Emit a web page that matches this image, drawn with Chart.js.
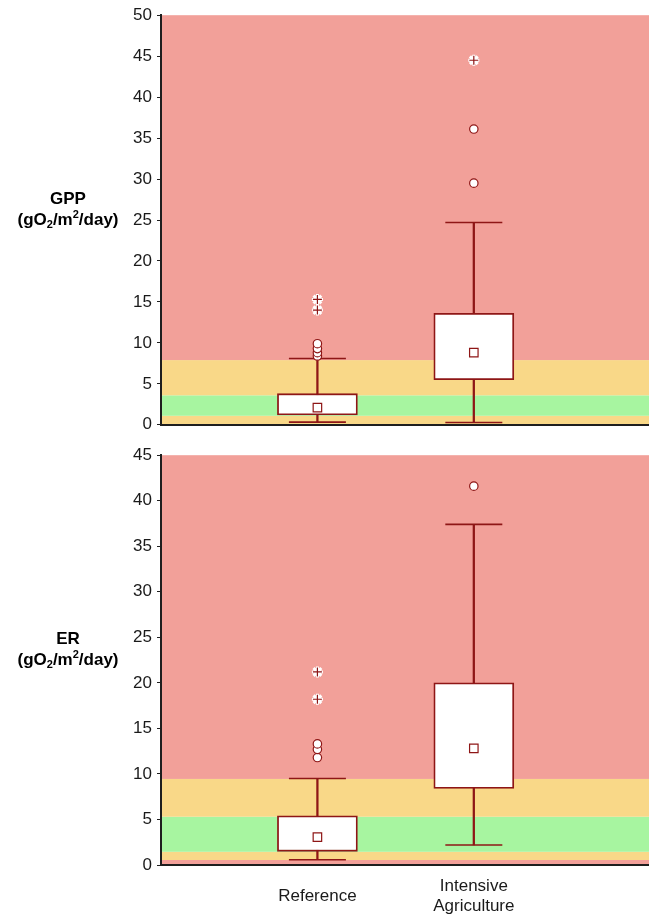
<!DOCTYPE html>
<html>
<head>
<meta charset="utf-8">
<script src="https://cdn.jsdelivr.net/npm/chart.js@4.4.1/dist/chart.umd.min.js"></script>
<style>
    body { margin: 0; background: #fff; }
    .panel { position: absolute; left: 0; width: 649px; }
    #top-panel { top: 0; height: 440px; }
    #bottom-panel { top: 440px; height: 476px; }
</style>
</head>
<body>
<div class="panel" id="top-panel"><canvas id="gpp-chart" width="649" height="440"></canvas></div>
<div class="panel" id="bottom-panel"><canvas id="er-chart" width="649" height="476"></canvas></div>
<script>
// categories / x labels
var categories = ['Reference', 'Intensive Agriculture'];
var catLabels = [['Reference'], ['Intensive', 'Agriculture']];

// GPP box stats (per category)
var gppMin = [0.33, 0.28];
var gppQ1 = [1.2, 5.5];
var gppQ3 = [3.8, 13.6];
var gppMax = [8.1, 24.7];
var gppMean = [2.1, 8.8];
var gppOutliers = [[8.4, 8.8, 9.3, 9.9], [29.5, 36.1]];
var gppExtremes = [[14.0, 15.3], [44.5]];
var gppBandEdges = [0, 1.1, 3.6, 7.9, 50];
var gppTickMax = 50;

// ER box stats
var erMin = [0.58, 2.2];
var erQ1 = [1.5, 8.4];
var erQ3 = [5.4, 20.0];
var erMax = [9.5, 37.4];
var erMean = [3.07, 12.8];
var erOutliers = [[11.8, 12.7, 13.3], [41.6]];
var erExtremes = [[18.2, 21.2], []];
var erBandEdges = [0, 0.55, 1.45, 5.3, 9.45, 45];
var erTickMax = 45;

var tickStep = 5;

// colours
var RED = '#f2a099';
var YELLOW = '#f9d888';
var GREEN = '#a7f5a0';
var gppBandColors = [YELLOW, GREEN, YELLOW, RED];
var erBandColors = [RED, YELLOW, GREEN, YELLOW, RED];
var DARK = '#8e1616';
var AXIS = '#1e1e1e';

Chart.defaults.font.family = "'Liberation Sans', Arial, sans-serif";
Chart.defaults.color = '#1a1a1a';

function pts(vals) {
    var out = [];
    for (var i = 0; i < vals.length; i++) {
        out.push({ x: i + 1, y: vals[i] });
    }
    return out;
}

function nestedPts(lists) {
    var out = [];
    for (var i = 0; i < lists.length; i++) {
        for (var j = 0; j < lists[i].length; j++) {
            out.push({ x: i + 1, y: lists[i][j] });
        }
    }
    return out;
}

function rangePts(lo, hi) {
    var out = [];
    for (var i = 0; i < lo.length; i++) {
        out.push({ x: i + 1, y: [lo[i], hi[i]] });
    }
    return out;
}

function markers(data, style, radius, bg, border, width, order) {
    return {
        type: 'line',
        showLine: false,
        clip: false,
        data: data,
        pointStyle: style,
        pointRadius: radius,
        pointHoverRadius: radius,
        pointBackgroundColor: bg,
        pointBorderColor: border,
        pointBorderWidth: width,
        pointRotation: 0,
        order: order
    };
}

// bands behind the chart, drawn through the y scale
var bandPlugin = {
    id: 'bands',
    beforeDraw: function (chart, args, opts) {
        var ctx = chart.ctx;
        var area = chart.chartArea;
        var y = chart.scales.y;
        ctx.save();
        for (var i = 0; i < opts.colors.length; i++) {
            var top = y.getPixelForValue(opts.edges[i + 1]);
            var bot = y.getPixelForValue(opts.edges[i]);
            ctx.fillStyle = opts.colors[i];
            ctx.fillRect(area.left, top, area.right - area.left, bot - top);
        }
        ctx.restore();
    }
};

// horizontal y title with sub/superscript
var yTitlePlugin = {
    id: 'ytitle',
    afterDraw: function (chart, args, opts) {
        var ctx = chart.ctx;
        var area = chart.chartArea;
        var mid = (area.top + area.bottom) / 2;
        var cx = 68;
        ctx.save();
        ctx.fillStyle = '#000';
        ctx.textBaseline = 'middle';
        ctx.textAlign = 'left';
        var big = "bold 17px 'Liberation Sans', Arial, sans-serif";
        var small = "bold 11px 'Liberation Sans', Arial, sans-serif";

        ctx.font = big;
        var w1 = ctx.measureText(opts.name).width;
        ctx.fillText(opts.name, cx - w1 / 2, mid - 21);

        var parts = [['(gO', 0], ['2', 1], ['/m', 0], ['2', -1], ['/day)', 0]];
        var total = 0;
        for (var i = 0; i < parts.length; i++) {
            ctx.font = parts[i][1] ? small : big;
            total += ctx.measureText(parts[i][0]).width;
        }
        var x = cx - total / 2;
        for (var j = 0; j < parts.length; j++) {
            ctx.font = parts[j][1] ? small : big;
            var dy = parts[j][1] * 5;
            ctx.fillText(parts[j][0], x, mid + dy);
            x += ctx.measureText(parts[j][0]).width;
        }
        ctx.restore();
    }
};

function makeChart(canvasId, name, mins, q1s, q3s, maxs, means, outs, extremes, tickMax, bandEdges, bandColors, showLabels) {
    var caps = pts(mins).concat(pts(maxs));
    var ext = nestedPts(extremes);

    var datasets = [
        {
            type: 'bar',
            data: rangePts(mins, maxs),
            backgroundColor: DARK,
            borderWidth: 0,
            barThickness: 1.6,
            grouped: false,
            order: 6
        },
        {
            type: 'bar',
            data: rangePts(q1s, q3s),
            backgroundColor: '#ffffff',
            borderColor: DARK,
            borderWidth: 1.8,
            borderSkipped: false,
            barThickness: 80,
            grouped: false,
            order: 5
        },
        markers(caps, 'line', 28.5, DARK, DARK, 1.6, 4),
        markers(pts(means), 'rect', 6, '#ffffff', DARK, 1.2, 3),
        markers(nestedPts(outs), 'circle', 4.2, '#ffffff', DARK, 1.2, 2),
        markers(ext, 'star', 5.5, '#ffffff', '#ffffff', 3, 1),
        markers(ext, 'cross', 4.5, DARK, DARK, 1.2, 0)
    ];

    return new Chart(document.getElementById(canvasId), {
        type: 'bar',
        data: { datasets: datasets },
        plugins: [bandPlugin, yTitlePlugin],
        options: {
            responsive: false,
            animation: false,
            devicePixelRatio: 1,
            layout: { autoPadding: false, padding: { left: 0, right: 0, top: 14, bottom: 0 } },
            plugins: {
                legend: { display: false },
                tooltip: { enabled: false },
                bands: { edges: bandEdges, colors: bandColors },
                ytitle: { name: name }
            },
            scales: {
                x: {
                    type: 'linear',
                    min: 0,
                    max: 3.12,
                    offset: false,
                    grid: { display: false, drawTicks: false },
                    border: { display: true, color: AXIS, width: 2 },
                    ticks: {
                        display: showLabels,
                        padding: 21,
                        crossAlign: 'center',
                        maxRotation: 0,
                        autoSkip: false,
                        font: { size: 17, lineHeight: 1.2 },
                        callback: function (v) {
                            return catLabels[v - 1] || '';
                        }
                    },
                    afterBuildTicks: function (scale) {
                        scale.ticks = categories.map(function (c, i) { return { value: i + 1 }; });
                    },
                    afterFit: function (scale) {
                        scale.height = showLabels ? 51 : 15;
                    }
                },
                y: {
                    type: 'linear',
                    min: 0,
                    max: tickMax,
                    grid: { drawOnChartArea: false, drawTicks: true, tickLength: 4, color: AXIS, lineWidth: 1 },
                    border: { display: true, color: AXIS, width: 2 },
                    ticks: {
                        stepSize: tickStep,
                        padding: 5,
                        font: { size: 17 }
                    },
                    afterFit: function (scale) {
                        scale.width = 161;
                    }
                }
            }
        }
    });
}

makeChart('gpp-chart', 'GPP', gppMin, gppQ1, gppQ3, gppMax, gppMean, gppOutliers, gppExtremes,
    gppTickMax, gppBandEdges, gppBandColors, false);
makeChart('er-chart', 'ER', erMin, erQ1, erQ3, erMax, erMean, erOutliers, erExtremes,
    erTickMax, erBandEdges, erBandColors, true);
</script>
</body>
</html>
